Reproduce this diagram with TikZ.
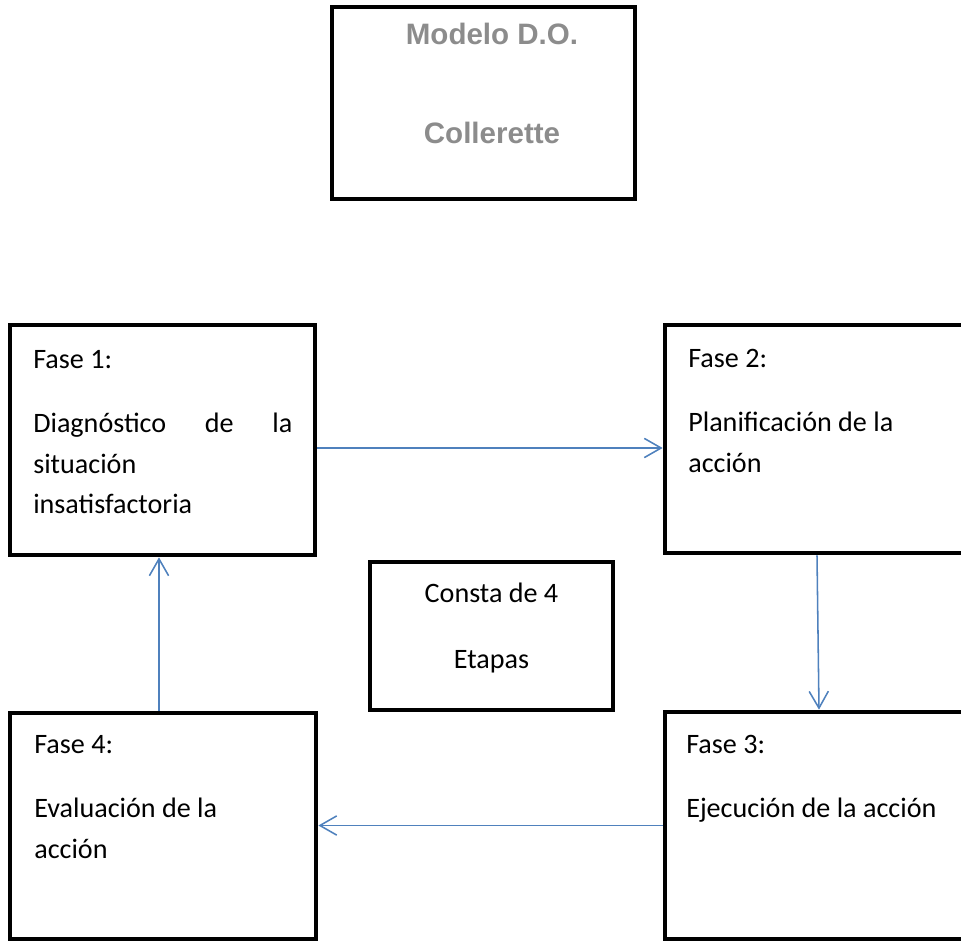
\documentclass[tikz,border=0pt]{standalone}
\usepackage{fontspec}
\setmainfont{Carlito}
\newfontfamily\titulofont{Liberation Sans}
\usetikzlibrary{arrows.meta,calc,positioning}
\definecolor{azulflecha}{RGB}{79,129,189}
\definecolor{grisTitulo}{RGB}{140,140,140}
\tikzset{
  caja/.style={draw, line width=3.3pt, inner sep=0pt},
  texto/.style={anchor=base west, inner sep=0pt, align=flush left,
    font=\fontsize{20}{28.5}\selectfont},
  flecha/.style={azulflecha, line width=1.1pt,
    -{Straight Barb[length=0.42cm,width=0.48cm]}}
}

\begin{document}
\begin{tikzpicture}[x=0.025cm,y=-0.025cm]
\useasboundingbox (0,0) rectangle (961,941);
\clip (0,0) rectangle (961,941);
%\draw [help lines,step=50] (0,0) grid (961,941);
% cajas
\node[caja, minimum width=7.575cm, minimum height=4.8cm] (titulo) at (483.5,103) {};
\node[caja, minimum width=7.625cm, minimum height=5.75cm] (fase1) at (162.5,440) {};
\node[caja, minimum width=7.75cm, minimum height=5.7cm] (fase2) at (820,439) {};
\node[caja, minimum width=6.075cm, minimum height=3.7cm] (consta) at (491.5,636) {};
\node[caja, minimum width=7.65cm, minimum height=5.65cm] (fase4) at (163,826) {};
\node[caja, minimum width=7.75cm, minimum height=5.675cm] (fase3) at (820,825.5) {};
% textos (base = ultima linea)
\node[anchor=base, inner sep=0pt, align=center, text=grisTitulo,
  font=\titulofont\bfseries\fontsize{21}{25}\selectfont] (tituloTxt) at (492,143)
  {Modelo D.O.\\[44.7pt]Collerette};
\node[texto, text width=6.475cm] (fase1Txt) at (33,368)
  {Fase 1:\\[17.7pt]Diagnóstico\hfill de\hfill la\\situación\\insatisfactoria};
\node[texto, text width=7cm] (fase2Txt) at (688,367)
  {Fase 2:\\[17.7pt]Planificación de la\\acción};
\node[texto, text width=7cm] (fase3Txt) at (686,753)
  {Fase 3:\\[17.7pt]Ejecución de la acción};
\node[texto, text width=7cm] (fase4Txt) at (34,753)
  {Fase 4:\\[17.7pt]Evaluación de la\\acción};
\node[texto, anchor=base, align=center] (constaTxt) at (491.5,668)
  {Consta de 4\\[18.4pt]Etapas};
% flechas
\draw[flecha] ([yshift=-0.2cm]fase1.east) -- ([yshift=-0.2cm]fase1.east -| fase2.west);
\draw[flecha] ([xshift=-0.075cm]fase2.south) -- ([xshift=-0.025cm]fase3.north);
\draw[flecha] (fase3.west) -- (fase3.west -| fase4.east);
\draw[flecha] ([xshift=-0.1cm]fase4.north) -- ([xshift=-0.1cm]fase4.north |- fase1.south);
\end{tikzpicture}
\end{document}
